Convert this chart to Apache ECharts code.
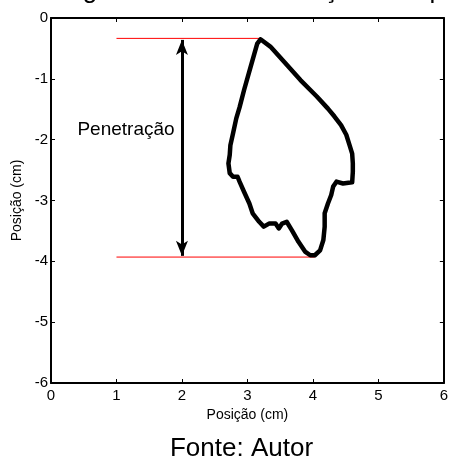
<!DOCTYPE html>
<html>
<head>
<meta charset="utf-8">
<script src="https://cdn.jsdelivr.net/npm/echarts@6/dist/echarts.min.js"></script>
<style>
  html, body { margin: 0; padding: 0; background: #fff; }
  #chart { width: 451px; height: 459px; }
</style>
</head>
<body>
<div id="chart"></div>
<script>
// Outline of the cavity (cm), traced clockwise from the top vertex
const outlineX = [3.20, 3.35, 3.56, 3.81, 4.06, 4.23, 4.33, 4.43, 4.51, 4.56, 4.60, 4.61, 4.61, 4.60,
  4.46, 4.36, 4.31, 4.28, 4.23, 4.18, 4.18, 4.16, 4.11, 4.03, 3.96, 3.88, 3.78, 3.68, 3.60, 3.53,
  3.48, 3.43, 3.33, 3.25, 3.18, 3.08, 3.03, 2.95, 2.88, 2.85, 2.78, 2.73, 2.71, 2.73, 2.74, 2.78,
  2.83, 2.88, 2.95, 3.05, 3.15, 3.20];
const outlineY = [-0.35, -0.47, -0.72, -1.02, -1.29, -1.49, -1.62, -1.76, -1.92, -2.09, -2.23, -2.39, -2.53, -2.70,
  -2.72, -2.69, -2.77, -2.91, -3.05, -3.21, -3.43, -3.65, -3.82, -3.90, -3.90, -3.84, -3.68, -3.49, -3.35, -3.38,
  -3.46, -3.38, -3.38, -3.43, -3.35, -3.21, -3.05, -2.86, -2.69, -2.61, -2.61, -2.55, -2.39, -2.25, -2.09, -1.90,
  -1.65, -1.47, -1.18, -0.80, -0.42, -0.35];

// Reference lines marking the penetration depth
const refTopX = [1, 3.2];
const refTopY = [-0.335, -0.335];
const refBottomX = [1, 4.03];
const refBottomY = [-3.93, -3.93];

// Double arrow spanning the penetration
const arrowX = 2;
const arrowFrom = -0.36;
const arrowTo = -3.91;

const xTicks = [0, 1, 2, 3, 4, 5, 6];
const yTicks = [-6, -5, -4, -3, -2, -1, 0];

const zip = (xs, ys) => xs.map((x, i) => [x, ys[i]]);
const font = 'Liberation Sans, Arial, sans-serif';

const chart = echarts.init(document.getElementById('chart'));

const axisCommon = {
  type: 'value',
  interval: 1,
  axisLine: { show: true, onZero: false, lineStyle: { color: '#000', width: 2 } },
  axisTick: { show: true, inside: true, length: 4, lineStyle: { color: '#000', width: 1 } },
  splitLine: { show: false },
  nameTextStyle: { color: '#000', fontSize: 14, fontFamily: font }
};

chart.setOption({
  animation: false,
  backgroundColor: '#fff',
  grid: { left: 51, top: 18, right: 2, bottom: 76 },
  xAxis: [
    Object.assign({}, axisCommon, {
      position: 'bottom', min: xTicks[0], max: xTicks[xTicks.length - 1],
      name: 'Posição (cm)', nameLocation: 'middle', nameGap: 24,
      axisLabel: { color: '#000', fontSize: 15, fontFamily: font, margin: 5, showMinLabel: true, showMaxLabel: true }
    }),
    Object.assign({}, axisCommon, {
      position: 'top', min: xTicks[0], max: xTicks[xTicks.length - 1],
      axisLabel: { show: false }
    })
  ],
  yAxis: [
    Object.assign({}, axisCommon, {
      position: 'left', min: yTicks[0], max: yTicks[yTicks.length - 1],
      name: 'Posição (cm)', nameLocation: 'middle', nameGap: 26,
      axisLabel: { color: '#000', fontSize: 15, fontFamily: font, margin: 3, showMinLabel: true, showMaxLabel: true }
    }),
    Object.assign({}, axisCommon, {
      position: 'right', min: yTicks[0], max: yTicks[yTicks.length - 1],
      axisLabel: { show: false }
    })
  ],
  series: [
    {
      type: 'line', data: zip(refTopX, refTopY), showSymbol: false, silent: true,
      lineStyle: { color: '#ff0000', width: 1 }
    },
    {
      type: 'line', data: zip(refBottomX, refBottomY), showSymbol: false, silent: true,
      lineStyle: { color: '#ff0000', width: 1 }
    },
    {
      type: 'line', data: zip(outlineX, outlineY), showSymbol: false, silent: true,
      lineStyle: { color: '#000', width: 4.5, join: 'round', cap: 'round' },
      markLine: {
        silent: true, animation: false,
        symbol: ['arrow', 'arrow'], symbolSize: [9, 15],
        label: { show: false },
        lineStyle: { color: '#000', width: 3, type: 'solid' },
        data: [[{ coord: [arrowX, arrowFrom] }, { coord: [arrowX, arrowTo] }]]
      }
    }
  ],
  graphic: [
    {
      type: 'text', x: 61, y: -9,
      style: { text: 'Figura 5 – Furo e medição com penetração', font: '26px ' + font, fill: '#000', textVerticalAlign: 'middle' }
    },
    {
      type: 'text', x: 126, y: 129.5,
      style: { text: 'Penetração', font: '19px ' + font, fill: '#000', textAlign: 'center', textVerticalAlign: 'middle' }
    },
    {
      type: 'text', x: 241.5, y: 449,
      style: { text: 'Fonte: Autor', font: '26px ' + font, fill: '#000', textAlign: 'center', textVerticalAlign: 'middle' }
    }
  ]
});
</script>
</body>
</html>
